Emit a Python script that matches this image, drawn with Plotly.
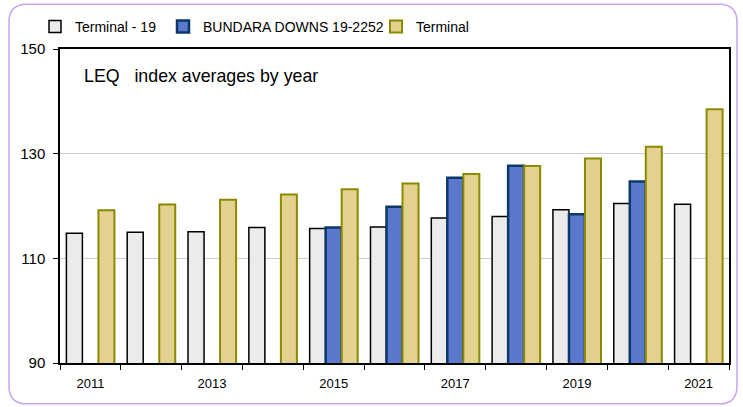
import plotly.graph_objects as go

years = ["2011", "2012", "2013", "2014", "2015", "2016", "2017", "2018", "2019", "2020", "2021"]
terminal_19 = [114.8, 115.0, 115.1, 115.9, 115.7, 116.0, 117.7, 118.0, 119.3, 120.5, 120.35]
bundara = [None, None, None, None, 115.9, 119.85, 125.4, 127.7, 118.4, 124.7, None]
terminal = [119.2, 120.3, 121.2, 122.2, 123.2, 124.3, 126.1, 127.65, 129.1, 131.3, 138.5]
tick_text = ["2011", "", "2013", "", "2015", "", "2017", "", "2019", "", "2021"]
y_ticks = [90, 110, 130, 150]

W, H = 743, 407
L, R, T, B = 60, 729, 48, 363
FONT = "Liberation Sans Narrow, Arial Narrow, Liberation Sans, Arial, sans-serif"

def px(x):
    return (x - L) / (R - L)

def py(y):
    return (B - y) / (B - T)

fig = go.Figure()
fig.add_trace(go.Bar(x=years, y=terminal_19, name="Terminal - 19",
                     marker=dict(color="#ebebeb", line=dict(color="#000000", width=1.5)),
                     legend="legend"))
fig.add_trace(go.Bar(x=years, y=bundara, name="BUNDARA DOWNS 19-2252",
                     marker=dict(color="#5a78cc", line=dict(color="#0b3868", width=2.5)),
                     legend="legend2"))
fig.add_trace(go.Bar(x=years, y=terminal, name="Terminal",
                     marker=dict(color="#e3d18f", line=dict(color="#8a8a00", width=2)),
                     legend="legend3"))

# rounded border
x0, x1, y0, y1, r = 9, 737, 3, 404, 18
path = (f"M {px(x0+r)},{py(y0)} L {px(x1-r)},{py(y0)} Q {px(x1)},{py(y0)} {px(x1)},{py(y0+r)} "
        f"L {px(x1)},{py(y1-r)} Q {px(x1)},{py(y1)} {px(x1-r)},{py(y1)} "
        f"L {px(x0+r)},{py(y1)} Q {px(x0)},{py(y1)} {px(x0)},{py(y1-r)} "
        f"L {px(x0)},{py(y0+r)} Q {px(x0)},{py(y0)} {px(x0+r)},{py(y0)} Z")

leg_common = dict(orientation="h", yanchor="middle", xanchor="left", y=py(27),
                  bgcolor="rgba(0,0,0,0)", font=dict(family=FONT, size=14, color="#000"),
                  itemwidth=30, tracegroupgap=0)

fig.update_layout(
    width=W, height=H, autosize=False,
    margin=dict(l=L, r=W - R, t=T, b=H - B),
    paper_bgcolor="white", plot_bgcolor="white",
    barmode="group", bargap=0.21, bargroupgap=0,
    font=dict(family=FONT, size=14, color="#000"),
    showlegend=True,
    legend=dict(x=px(35), **leg_common),
    legend2=dict(x=px(163), **leg_common),
    legend3=dict(x=px(376), **leg_common),
    shapes=[dict(type="path", path=path, xref="paper", yref="paper",
                 line=dict(color="#c9a2f0", width=1.5), layer="below")],
    annotations=[dict(text="LEQ   index averages by year", xref="paper", yref="paper",
                      x=px(82), y=py(75), xanchor="left", yanchor="middle", showarrow=False,
                      font=dict(family=FONT, size=17.8, color="#000"))],
    xaxis=dict(type="category", tickvals=years, ticktext=tick_text, tickson="boundaries",
               ticks="outside", ticklen=5, tickcolor="#000", showline=True, linecolor="#000",
               linewidth=1.5, mirror=True, showgrid=False, ticklabelstandoff=8,
               tickfont=dict(family=FONT, size=13, color="#000")),
    yaxis=dict(range=[90, 150], tickvals=y_ticks, ticks="outside", ticklen=5, tickcolor="#000",
               showline=True, linecolor="#000", linewidth=1.5, mirror=True,
               showgrid=True, gridcolor="#cfcfcf", gridwidth=1, zeroline=False,
               ticklabelstandoff=5,
               tickfont=dict(family=FONT, size=15, color="#000")),
)

fig.write_html("out.html", config={"displayModeBar": False},
               post_script="document.body.style.margin='0';document.body.style.padding='0';")
